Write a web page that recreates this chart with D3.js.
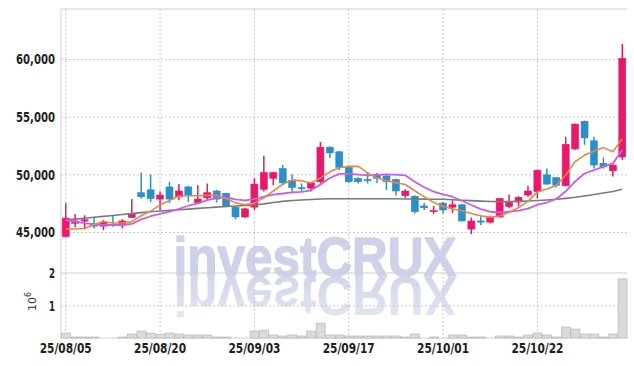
<!DOCTYPE html>
<html>
<head>
<meta charset="utf-8">
<script src="https://cdn.jsdelivr.net/npm/d3@7"></script>
<style>
  html, body { margin: 0; padding: 0; background: #fff; }
  svg { display: block; }
</style>
</head>
<body>
<div id="chart"></div>
<script>
// ---- data ----
const dates = [
  '25/08/05', '25/08/06', '25/08/07', '25/08/08', '25/08/11', '25/08/12', '25/08/13', '25/08/14', '25/08/18', '25/08/19',
  '25/08/20', '25/08/21', '25/08/22', '25/08/25', '25/08/26', '25/08/27', '25/08/28', '25/08/29', '25/09/01', '25/09/02',
  '25/09/03', '25/09/04', '25/09/05', '25/09/08', '25/09/09', '25/09/10', '25/09/11', '25/09/12', '25/09/15', '25/09/16',
  '25/09/17', '25/09/18', '25/09/19', '25/09/22', '25/09/23', '25/09/24', '25/09/25', '25/09/26', '25/09/29', '25/09/30',
  '25/10/01', '25/10/02', '25/10/10', '25/10/13', '25/10/14', '25/10/15', '25/10/16', '25/10/17', '25/10/20', '25/10/21',
  '25/10/22', '25/10/23', '25/10/24', '25/10/27', '25/10/28', '25/10/29', '25/10/30', '25/10/31', '25/11/03', '25/11/04',
];
const opens = [
  44650, 45800, 46000, 45800, 45550, 45700, 45650, 46300, 48450, 48700,
  47900, 48950, 48100, 48950, 47600, 48000, 48600, 48400, 47200, 46350,
  47200, 48750, 49700, 50550, 49500, 48900, 48850, 49400, 52400, 52000,
  50650, 49700, 49600, 50050, 49900, 49600, 48200, 48150, 47300, 46800,
  47550, 47200, 47400, 45300, 46000, 45900, 46350, 47250, 47650, 48250,
  48550, 50000, 49750, 49050, 52250, 54650, 52950, 51000, 50350, 51550,
];
const highs = [
  47550, 46600, 46500, 46250, 46100, 46450, 46150, 47900, 50200, 50050,
  48550, 49400, 49200, 49050, 49100, 49250, 48700, 48450, 47250, 47150,
  49700, 51650, 50250, 50850, 50050, 49250, 49400, 52850, 52450, 52050,
  50700, 49800, 50250, 50150, 50000, 49650, 48750, 48200, 47550, 47300,
  47650, 47800, 47500, 46300, 46450, 46450, 48000, 48300, 48150, 49050,
  50450, 50550, 49800, 53300, 54450, 54700, 53300, 51500, 50900, 61350,
];
const lows = [
  44600, 45450, 45300, 45350, 45200, 45500, 45350, 46250, 47950, 47650,
  46950, 47550, 47800, 47650, 47550, 47800, 47600, 47200, 46150, 46250,
  46950, 48550, 49100, 49100, 48550, 48550, 48550, 49250, 51450, 50400,
  49300, 49250, 49250, 49300, 48700, 48200, 48000, 46650, 46950, 46600,
  46650, 46700, 45950, 44850, 45650, 45800, 46300, 47100, 47250, 48100,
  47950, 49150, 48900, 49000, 52150, 52600, 50550, 50550, 49850, 51300,
];
const closes = [
  46250, 46000, 46100, 45550, 45900, 45600, 46000, 46650, 48100, 47950,
  48250, 47900, 48600, 48250, 47900, 48450, 47900, 47250, 46350, 47050,
  49200, 50200, 50200, 49300, 48900, 48800, 49300, 52400, 51900, 50650,
  49400, 49400, 49500, 49700, 49400, 48600, 48600, 46800, 47150, 46900,
  46950, 47400, 46000, 46000, 45900, 46300, 47950, 47600, 48050, 48600,
  50400, 49200, 49100, 52650, 54400, 53200, 50850, 50700, 50850, 60100,
];
// volume, in millions of shares
const volumes = [
  0.18, 0.06, 0.06, 0.06, 0.03, 0.03, 0.06, 0.15, 0.24, 0.18,
  0.14, 0.18, 0.15, 0.12, 0.12, 0.12, 0.06, 0.06, 0.03, 0.03,
  0.24, 0.27, 0.12, 0.09, 0.12, 0.09, 0.24, 0.48, 0.12, 0.12,
  0.09, 0.09, 0.09, 0.09, 0.09, 0.09, 0.06, 0.15, 0.03, 0.06,
  0.03, 0.12, 0.12, 0.06, 0.06, 0.03, 0.09, 0.09, 0.06, 0.12,
  0.18, 0.12, 0.06, 0.36, 0.30, 0.15, 0.15, 0.06, 0.15, 1.82,
];
// moving averages as drawn in the reference
const ma5 = [
  45300, 45300, 45350, 45700, 45960, 45830, 45830, 45940, 46450, 46860,
  47390, 47770, 48160, 48190, 48180, 48220, 48220, 47950, 47570, 47400,
  47550, 48010, 48600, 49190, 49560, 49480, 49300, 49740, 50260, 50610,
  50730, 50750, 50170, 49730, 49480, 49320, 49160, 48620, 48110, 47610,
  47280, 47040, 46880, 46650, 46450, 46320, 46430, 46750, 47160, 47700,
  48520, 48770, 49070, 49990, 51150, 51710, 52040, 52360, 52000, 53140,
];
const ma10 = [
  46080, 45950, 45820, 45710, 45650, 45650, 45650, 45740, 46140, 46410,
  46610, 46800, 47050, 47320, 47520, 47805, 47995, 48055, 47880, 47790,
  47885, 48115, 48275, 48380, 48480, 48515, 48655, 49170, 49725, 50085,
  50105, 50025, 49955, 49995, 50045, 50025, 49955, 49395, 48920, 48545,
  48300, 48100, 47750, 47380, 47030, 46800, 46735, 46815, 46905, 47075,
  47420, 47600, 47910, 48575, 49425, 50115, 50405, 50715, 50995, 52145,
];
const ma60 = [
  46080, 46160, 46240, 46320, 46400, 46480, 46560, 46640, 46720, 46800,
  46870, 46920, 46970, 47030, 47090, 47150, 47200, 47250, 47300, 47340,
  47380, 47480, 47600, 47700, 47770, 47820, 47860, 47900, 47920, 47930,
  47930, 47930, 47920, 47920, 47920, 47920, 47910, 47900, 47890, 47880,
  47880, 47840, 47800, 47760, 47720, 47690, 47680, 47680, 47700, 47730,
  47770, 47820, 47880, 47960, 48050, 48170, 48300, 48420, 48550, 48750,
];
const tickLabels = ['25/08/05', '25/08/20', '25/09/03', '25/09/17', '25/10/01', '25/10/22'];
const priceTicks = [45000, 50000, 55000, 60000];
const volumeTicks = [1, 2];

// ---- chart ----
const attrs = {
  svgWidth: 634,
  svgHeight: 366,
  left: 61,
  right: 627,
  top: 9,
  split: 273,
  bottom: 338,
  upColor: '#e8196a',
  downColor: '#2b8fc8',
  gridColor: '#c5c8de',
  textFill: '#1e1e1e',
  font: "'DejaVu Sans Condensed', 'DejaVu Sans', sans-serif",
};

const svg = d3
  .select('#chart')
  .append('svg')
  .attr('width', attrs.svgWidth)
  .attr('height', attrs.svgHeight)
  .attr('font-family', attrs.font);

const x = d3.scaleBand().domain(dates).range([attrs.left, attrs.right]).paddingInner(0);
const y = d3.scaleLinear().domain([45000, 60000]).range([232.5, 59.5]);
const yVol = d3.scaleLinear().domain([0, 2]).range([339, 273]);
const cx = (i) => x(dates[i]) + x.bandwidth() / 2;

// watermark with mirrored reflection
const defs = svg.append('defs');
const fade = defs
  .append('linearGradient')
  .attr('id', 'wmFade')
  .attr('gradientUnits', 'userSpaceOnUse')
  .attr('x1', 0).attr('x2', 0)
  .attr('y1', 276).attr('y2', 232);
fade.append('stop').attr('offset', 0).attr('stop-color', '#d2d6ea');
fade.append('stop').attr('offset', 1).attr('stop-color', '#e4e6f2');

const wm = svg.append('g').attr('class', 'watermark');
const wmText = (g) =>
  g
    .append('text')
    .attr('x', 315)
    .attr('y', 276)
    .attr('text-anchor', 'middle')
    .attr('font-family', "'Liberation Sans', Arial, sans-serif")
    .attr('font-weight', 'bold')
    .attr('font-size', 56)
    .attr('textLength', 283)
    .attr('lengthAdjust', 'spacingAndGlyphs')
    .text('investCRUX');
wmText(wm)
  .attr('fill', '#cdd2e8')
  .attr('stroke', '#cdd2e8')
  .attr('stroke-width', 1.4)
  .attr('stroke-linejoin', 'round');
wmText(wm.append('g').attr('transform', 'translate(0,553) scale(1,-1)'))
  .attr('fill', 'url(#wmFade)');

// grid
const grid = svg.append('g').attr('class', 'grid');
grid
  .selectAll('.hgrid')
  .data(priceTicks)
  .join('line')
  .attr('class', 'hgrid')
  .attr('x1', attrs.left)
  .attr('x2', attrs.right)
  .attr('y1', (d) => y(d))
  .attr('y2', (d) => y(d))
  .attr('stroke', attrs.gridColor)
  .attr('stroke-dasharray', '2,2');
grid
  .selectAll('.vgrid')
  .data(tickLabels)
  .join('line')
  .attr('class', 'vgrid')
  .attr('x1', (d) => x(d) + x.bandwidth() / 2)
  .attr('x2', (d) => x(d) + x.bandwidth() / 2)
  .attr('y1', attrs.top)
  .attr('y2', attrs.bottom)
  .attr('stroke', attrs.gridColor)
  .attr('stroke-dasharray', '2,2');
grid
  .append('line')
  .attr('x1', attrs.left)
  .attr('x2', attrs.right)
  .attr('y1', yVol(1))
  .attr('y2', yVol(1))
  .attr('stroke', attrs.gridColor)
  .attr('stroke-dasharray', '2,2');

// frame
const frame = svg.append('g').attr('class', 'frame').attr('stroke', '#cfcfd6').attr('fill', 'none');
frame.append('path').attr('d', `M${attrs.left},${attrs.bottom}V${attrs.top}H${attrs.right}`);
frame.append('line').attr('x1', attrs.left).attr('x2', attrs.right).attr('y1', attrs.split).attr('y2', attrs.split);
frame.append('line').attr('x1', attrs.left).attr('x2', attrs.right).attr('y1', attrs.bottom).attr('y2', attrs.bottom);

// volume bars
svg
  .append('g')
  .attr('class', 'volume')
  .selectAll('rect')
  .data(volumes)
  .join('rect')
  .attr('x', (d, i) => x(dates[i]) + 0.5)
  .attr('width', x.bandwidth() - 0.5)
  .attr('y', (d) => yVol(d))
  .attr('height', (d) => attrs.bottom - yVol(d))
  .attr('fill', '#dadada')
  .attr('stroke', '#bdbdbd')
  .attr('stroke-width', 0.8);

// candles
const candles = svg
  .append('g')
  .attr('class', 'candles')
  .selectAll('g')
  .data(dates.map((d, i) => i))
  .join('g')
  .attr('fill', (i) => (closes[i] >= opens[i] ? attrs.upColor : attrs.downColor))
  .attr('stroke', (i) => (closes[i] >= opens[i] ? attrs.upColor : attrs.downColor));
candles
  .append('line')
  .attr('x1', (i) => cx(i))
  .attr('x2', (i) => cx(i))
  .attr('y1', (i) => y(highs[i]))
  .attr('y2', (i) => y(lows[i]))
  .attr('stroke-width', 1.5);
candles
  .append('rect')
  .attr('x', (i) => cx(i) - 3.5)
  .attr('width', 7)
  .attr('y', (i) => y(Math.max(opens[i], closes[i])))
  .attr('height', (i) => Math.max(1, Math.abs(y(opens[i]) - y(closes[i]))))
  .attr('stroke-width', 0.6);

// moving averages
const line = d3
  .line()
  .x((d, i) => cx(i))
  .y((d) => y(d));
const maSeries = [
  { values: ma60, color: '#7a7a7a', width: 1.6 },
  { values: ma10, color: '#c95ee6', width: 1.8 },
  { values: ma5, color: '#ee8444', width: 1.6 },
];
svg
  .append('g')
  .attr('class', 'ma')
  .selectAll('path')
  .data(maSeries)
  .join('path')
  .attr('fill', 'none')
  .attr('stroke', (d) => d.color)
  .attr('stroke-width', (d) => d.width)
  .attr('stroke-linejoin', 'round')
  .attr('d', (d) => line(d.values));

// axes
const yAxis = svg
  .append('g')
  .attr('transform', `translate(${attrs.left},0)`)
  .call(d3.axisLeft(y).tickValues(priceTicks).tickSize(0).tickPadding(6).tickFormat(d3.format(',')));
const volAxis = svg
  .append('g')
  .attr('transform', `translate(${attrs.left},0)`)
  .call(d3.axisLeft(yVol).tickValues(volumeTicks).tickSize(0).tickPadding(6).tickFormat(d3.format('d')));
const xAxis = svg
  .append('g')
  .attr('transform', `translate(0,${attrs.bottom})`)
  .call(d3.axisBottom(x).tickValues(tickLabels).tickSize(0).tickPadding(5));
[yAxis, volAxis, xAxis].forEach((g) => {
  g.select('.domain').remove();
  g.selectAll('text')
    .attr('font-family', attrs.font)
    .attr('font-size', 13.5)
    .attr('font-weight', 'bold')
    .attr('fill', attrs.textFill);
});
// the reference face is a narrow bold one: squeeze to its measured widths
yAxis.selectAll('text').attr('textLength', 39).attr('lengthAdjust', 'spacingAndGlyphs');
xAxis.selectAll('text').attr('textLength', 52).attr('lengthAdjust', 'spacingAndGlyphs');
volAxis.selectAll('text').attr('textLength', 6).attr('lengthAdjust', 'spacingAndGlyphs');

// volume unit label
const unit = svg
  .append('text')
  .attr('transform', 'translate(36,311) rotate(-90)')
  .attr('font-family', "'DejaVu Sans', sans-serif")
  .attr('font-size', 11)
  .attr('fill', '#333');
unit.append('tspan').text('10');
unit.append('tspan').attr('dy', -5).attr('font-size', 8).text('6');
</script>
</body>
</html>
